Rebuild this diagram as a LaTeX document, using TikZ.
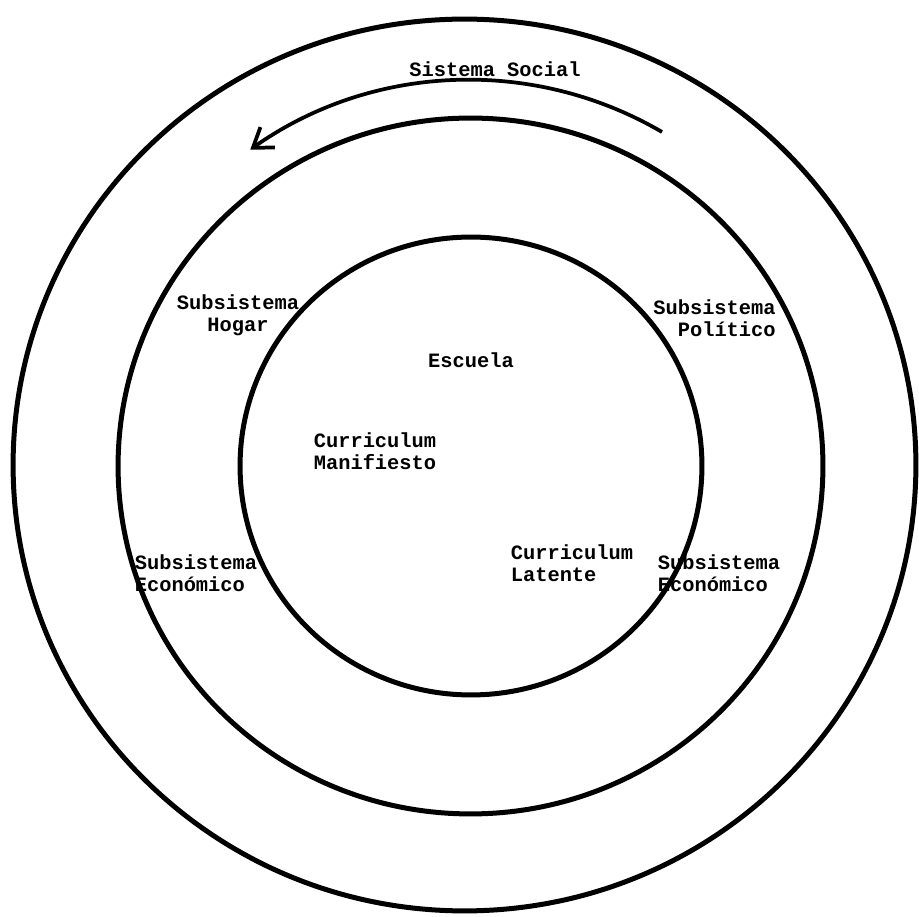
\documentclass[tikz,border=0pt]{standalone}
\usepackage{fontspec}
\setmonofont{Liberation Mono}
\usetikzlibrary{arrows.meta}
\tikzset{
  ring/.style={line width=0.1cm, draw=black},
  lbl/.style={font=\ttfamily\bfseries\fontsize{11.6}{12.6}\selectfont, inner sep=0pt, text=black},
  flow/.style={line width=0.075cm, -{Straight Barb[length=0.36cm,width=0.5cm,line width=0.075cm]}}
}
\begin{document}
\begin{tikzpicture}[x=0.02cm,y=0.02cm]
\useasboundingbox (0,0) rectangle (919,916);
% rings
\draw[ring] (464.5,451) ellipse [x radius=9.03cm, y radius=8.92cm];
\draw[ring] (470.5,450) ellipse [x radius=7.05cm, y radius=6.96cm];
\draw[ring] (471,450) ellipse [x radius=4.62cm, y radius=4.58cm];
% flow arrow
\coordinate (astart) at (662,784);
\draw[flow] (astart) arc[start angle=59.7, end angle=125.2, radius=7.62cm];
% labels
\node[lbl] (social) at (495,847) {Sistema Social};
\node[lbl, align=center] (hogar) at (238,601) {Subsistema\\Hogar};
\node[lbl, align=right, anchor=east] (politico) at (776,598) {Subsistema\\Político};
\node[lbl] (escuela) at (471,556) {Escuela};
\node[lbl, align=left] (manif) at (375,465) {Curriculum\\Manifiesto};
\node[lbl, align=left] (latente) at (572,353) {Curriculum\\Latente};
\node[lbl, align=left] (econL) at (196,343) {Subsistema\\Económico};
\node[lbl, align=left] (econR) at (719,343) {Subsistema\\Económico};
\end{tikzpicture}
\end{document}
